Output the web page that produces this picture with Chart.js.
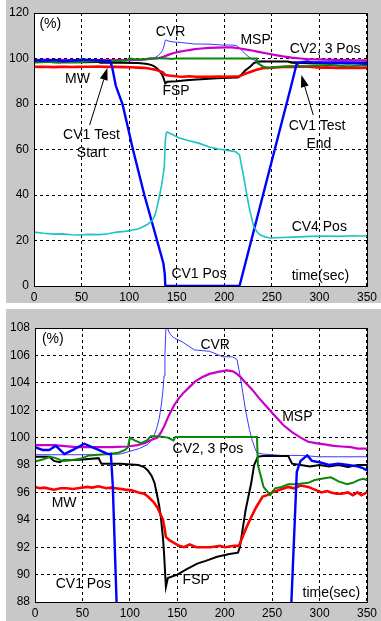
<!DOCTYPE html>
<html>
<head>
<meta charset="utf-8">
<script src="https://cdn.jsdelivr.net/npm/chart.js@4.4.0/dist/chart.umd.min.js"></script>
<style>
  html, body { margin: 0; padding: 0; background: #fff; }
  body { width: 381px; height: 621px; position: relative; overflow: hidden; }
  canvas { position: absolute; left: 6px; }
  #topChart { top: 0; }
  #bottomChart { top: 309px; }
</style>
</head>
<body>
<canvas id="topChart" width="375" height="303"></canvas>
<canvas id="bottomChart" width="375" height="312"></canvas>
<script>
/* ---- data: [time (sec), value (%)] ---- */
const X_TICKS = [0, 50, 100, 150, 200, 250, 300, 350];
const Y_TICKS_TOP = [0, 20, 40, 60, 80, 100, 120];
const Y_TICKS_BOTTOM = [88, 90, 92, 94, 96, 98, 100, 102, 104, 106, 108];

const CV4_POS = [
  [0, 23.7], [10, 23.2], [21, 22.8], [30, 22.9], [40, 22.5], [46, 22.4], [58, 22.7], [69, 22.6],
  [78, 23.0], [87, 23.7], [96, 24.0], [104, 24.6], [110, 25.2], [114, 25.9], [119, 27.0], [124, 28.6],
  [127, 31], [129, 34], [131, 37.8], [134, 44], [137, 52.3], [138, 64], [139, 67.2], [140, 67.7],
  [146, 66.5], [152, 65.2], [160, 64.2], [173, 62.8], [185, 61.0], [194, 60.2], [205, 59.5], [212, 59.0],
  [216, 57.6], [221, 46.6], [226, 34.8], [231, 26.0], [235, 23.5], [238, 22.4], [243, 21.6], [248, 21.1],
  [260, 21.3], [273, 21.5], [290, 21.8], [307, 22.0], [320, 21.8], [335, 22.1], [343, 22.0], [350, 22.0]
];

const CV1_POS = [
  [0, 99.3], [8, 99.1], [15, 99.1], [22, 99.4], [31, 98.8], [40, 99.1], [52, 99.55], [60, 99.3],
  [67, 99.1], [77, 98.8], [80, 98.8], [82, 96.5], [86, 88], [93, 80], [98, 71], [104, 60],
  [110, 50], [116, 40], [124, 28], [130, 19], [136, 10], [137.5, 5], [138, 0], [216, 0], [270, 87.5],
  [276, 97.5], [280, 98.3], [287, 98.7], [292, 98.3], [300, 98.2], [310, 98.0], [320, 98.1],
  [330, 98.0], [340, 97.9], [345, 97.8], [350, 97.6]
];

const CV23_POS = [
  [0, 98.25], [8, 98.4], [16, 98.6], [22, 98.5], [29, 98.3], [36, 98.35], [43, 98.4], [50, 98.5],
  [57, 98.7], [67, 98.75], [78, 98.8], [88, 98.9], [95, 99.1], [98, 99.3], [100, 100.0], [105, 99.8],
  [112, 99.6], [118, 99.8], [122, 100.1], [130, 100.1], [140, 100.0], [146, 99.8], [148, 100.05],
  [180, 100.05], [200, 100.05], [234, 100.05], [235, 98.0], [241, 96.4], [248, 95.8], [253, 96.3],
  [260, 96.4], [267, 96.6], [275, 96.6], [288, 96.7], [295, 96.9], [302, 97.0], [312, 97.1],
  [320, 96.8], [329, 96.6], [335, 96.7], [341, 96.9], [346, 97.0], [350, 96.9]
];

const MW = [
  [0, 96.4], [5, 96.3], [10, 96.35], [20, 96.2], [27, 96.3], [33, 96.3], [40, 96.25], [45, 96.3],
  [55, 96.4], [60, 96.35], [67, 96.45], [75, 96.3], [80, 96.35], [85, 96.3], [95, 96.2], [102, 96.15],
  [109, 96.0], [115, 95.9], [119, 95.7], [125, 95.3], [129, 94.9], [133, 94.3], [135, 94.0], [137, 93.2],
  [138, 92.75], [142, 92.5], [147, 92.3], [152, 92.1], [157, 92.0], [163, 92.2], [170, 92.0], [185, 92.0],
  [195, 92.1], [200, 92.0], [210, 92.1], [215, 92.1], [222, 93.3], [228, 94.2], [233, 94.9], [240, 95.7],
  [245, 95.8], [250, 96.0], [258, 96.2], [267, 96.4], [273, 96.3], [280, 96.5], [288, 96.4],
  [295, 96.2], [302, 96.0], [308, 96.1], [312, 96.0], [318, 95.9], [323, 95.9], [330, 96.0],
  [335, 95.8], [340, 96.0], [344, 95.8], [350, 96.0]
];

const FSP = [
  [0, 98.6], [15, 98.6], [20, 98.3], [26, 98.2], [30, 98.35], [36, 98.35], [50, 98.4], [67, 98.5],
  [70, 98.1], [90, 98.1], [109, 98.0], [115, 97.85], [119, 97.6], [123, 97.2], [126, 96.7], [129, 95.7],
  [131, 95.0], [133, 94.0], [135, 92.6], [136, 91.6], [138, 89.1], [139, 89.4], [140, 89.75], [150, 90.0],
  [160, 90.4], [171, 90.8], [180, 91.0], [192, 91.3], [205, 91.5], [214, 91.6], [216, 92.0], [222, 94.7],
  [228, 96.7], [231, 98.0], [235, 98.6], [240, 98.65], [267, 98.65], [271, 98.1], [280, 98.0],
  [290, 97.9], [300, 98.0], [310, 97.9], [320, 98.0], [330, 97.85], [340, 98.0], [350, 98.0]
];

const MSP = [
  [0, 99.45], [20, 99.45], [43, 99.3], [60, 99.3], [80, 99.3], [98, 99.35], [108, 99.45], [116, 99.6],
  [122, 99.8], [129, 100.0], [133, 100.4], [136, 100.8], [141, 101.6], [147, 102.4], [152, 102.9],
  [157, 103.3], [163, 103.7], [169, 104.1], [176, 104.4], [184, 104.65], [193, 104.8], [202, 104.9],
  [208, 104.85], [212, 104.7], [217, 104.4], [222, 104.0], [229, 103.5], [236, 102.9], [245, 102.2],
  [254, 101.5], [262, 100.9], [271, 100.4], [280, 100.0], [288, 99.7], [296, 99.6], [305, 99.5],
  [315, 99.4], [323, 99.35], [333, 99.3], [340, 99.2], [350, 99.2]
];

const CVR = [
  [0, 98.75], [30, 98.75], [60, 98.75], [90, 98.8], [100, 99.0], [110, 99.2], [119, 99.5], [124, 99.9],
  [128, 100.6], [131, 101.4], [133, 102.3], [135, 103.5], [136, 104.5], [137, 106], [138, 108],
  [139, 108.1], [142, 107.6], [146, 107.3], [155, 107.0], [168, 106.4], [184, 106.3], [198, 105.9],
  [208, 105.9], [213, 105.7], [217, 104.2], [222, 102.0], [226, 100.6], [229, 99.8], [232, 99.2],
  [234, 98.9], [240, 98.8], [260, 98.7], [280, 98.7], [300, 98.6], [320, 98.6], [350, 98.6]
];

/* ---- labels and arrows placed in data coordinates ---- */
const TOP_NOTES = [
  { text: "(%)", t: 5.7, v: 113.4 },
  { text: "CVR", t: 128, v: 109.9 },
  { text: "MSP", t: 217, v: 106.4 },
  { text: "CV2, 3 Pos", t: 268.7, v: 102.4 },
  { text: "MW", t: 32.6, v: 89.2 },
  { text: "FSP", t: 135, v: 84 },
  { text: "CV1 Test", t: 30.5, v: 64.6 },
  { text: "Start", t: 45, v: 56.7 },
  { text: "CV1 Test", t: 267.7, v: 68.6 },
  { text: "End", t: 286.3, v: 60.7 },
  { text: "CV4 Pos", t: 270.8, v: 24.2 },
  { text: "CV1 Pos", t: 144.4, v: 3.5 },
  { text: "time(sec)", t: 270.8, v: 2.6 }
];
const TOP_ARROWS = [
  { from: [58.5, 70.8], to: [77.1, 95.8] },
  { from: [293.5, 75.2], to: [281, 92.7] }
];
const BOTTOM_NOTES = [
  { text: "(%)", t: 7.3, v: 106.9 },
  { text: "CVR", t: 174.4, v: 106.5 },
  { text: "MSP", t: 260.6, v: 101.2 },
  { text: "CV2, 3 Pos", t: 145, v: 98.9 },
  { text: "MW", t: 17.6, v: 94.9 },
  { text: "CV1 Pos", t: 21.8, v: 89.0 },
  { text: "FSP", t: 155.6, v: 89.3 },
  { text: "time(sec)", t: 282, v: 88.4 }
];

const TICK_FONT = { family: "'Liberation Sans Narrow', 'Liberation Sans', Arial, sans-serif", size: 12 };
const NOTE_FONT = "14px 'Liberation Sans', Arial, sans-serif";

function series() {
  const line = (data, color, width) => ({
    data, borderColor: color, borderWidth: width, pointRadius: 0, fill: false, tension: 0
  });
  return [
    line(CV4_POS, "#1cc4c4", 1.6),
    line(CV1_POS, "#0000ff", 2.4),
    line(CV23_POS, "#0a860a", 2),
    line(MW, "#ff0000", 2.6),
    line(FSP, "#000000", 2),
    line(MSP, "#c800c8", 2.2),
    line(CVR, "#3a3aff", 1)
  ];
}

function paperPlugin(notes, arrows) {
  return {
    id: "paper",
    beforeDraw(chart) {
      const { ctx, chartArea: a } = chart;
      ctx.save();
      ctx.fillStyle = "#c8c8c8";
      ctx.fillRect(0, 0, chart.width, chart.height);
      ctx.fillStyle = "#ffffff";
      ctx.fillRect(a.left, a.top, a.right - a.left, a.bottom - a.top);
      ctx.restore();
    },
    afterDraw(chart) {
      const { ctx, chartArea: a } = chart;
      const xs = chart.scales.x, ys = chart.scales.y;
      ctx.save();
      ctx.strokeStyle = "#000";
      ctx.lineWidth = 1;
      ctx.strokeRect(Math.round(a.left) + 0.5, Math.round(a.top) + 0.5,
        Math.round(a.right - a.left), Math.round(a.bottom - a.top));

      ctx.fillStyle = "#000";
      ctx.font = NOTE_FONT;
      ctx.textBaseline = "alphabetic";
      notes.forEach((n) => {
        ctx.fillText(n.text, xs.getPixelForValue(n.t), ys.getPixelForValue(n.v));
      });

      arrows.forEach((ar) => {
        const x1 = xs.getPixelForValue(ar.from[0]), y1 = ys.getPixelForValue(ar.from[1]);
        const x2 = xs.getPixelForValue(ar.to[0]), y2 = ys.getPixelForValue(ar.to[1]);
        const ang = Math.atan2(y2 - y1, x2 - x1);
        const len = 12, half = 4;
        const bx = x2 - len * Math.cos(ang), by = y2 - len * Math.sin(ang);
        ctx.beginPath();
        ctx.moveTo(x1, y1);
        ctx.lineTo(bx, by);
        ctx.stroke();
        ctx.beginPath();
        ctx.moveTo(x2, y2);
        ctx.lineTo(bx + half * Math.sin(ang), by - half * Math.cos(ang));
        ctx.lineTo(bx - half * Math.sin(ang), by + half * Math.cos(ang));
        ctx.closePath();
        ctx.fill();
      });
      ctx.restore();
    }
  };
}

function makeChart(id, yTicks, geom, notes, arrows) {
  const grid = { color: "#000", lineWidth: 1, drawTicks: false };
  const border = { display: false, dash: [3, 3] };
  return new Chart(document.getElementById(id), {
    type: "line",
    data: { datasets: series() },
    options: {
      responsive: false,
      animation: false,
      events: [],
      layout: { padding: { top: geom.top, right: geom.right, left: 0, bottom: 0 } },
      plugins: { legend: { display: false }, tooltip: { enabled: false } },
      scales: {
        x: {
          type: "linear",
          min: X_TICKS[0],
          max: X_TICKS[X_TICKS.length - 1],
          grid, border,
          afterBuildTicks: (s) => { s.ticks = X_TICKS.map((v) => ({ value: v })); },
          afterFit: (s) => { s.height = geom.xh; },
          ticks: { color: "#000", font: TICK_FONT, padding: 4, maxRotation: 0, autoSkip: false }
        },
        y: {
          type: "linear",
          min: yTicks[0],
          max: yTicks[yTicks.length - 1],
          grid, border,
          afterBuildTicks: (s) => { s.ticks = yTicks.map((v) => ({ value: v })); },
          afterFit: (s) => { s.width = geom.yw; },
          ticks: { color: "#000", font: TICK_FONT, padding: 5, autoSkip: false }
        }
      }
    },
    plugins: [paperPlugin(notes, arrows)]
  });
}

makeChart("topChart", Y_TICKS_TOP, { top: 13, right: 10, xh: 17, yw: 28 }, TOP_NOTES, TOP_ARROWS);
makeChart("bottomChart", Y_TICKS_BOTTOM, { top: 19, right: 10, xh: 19, yw: 29 }, BOTTOM_NOTES, []);
</script>
</body>
</html>
